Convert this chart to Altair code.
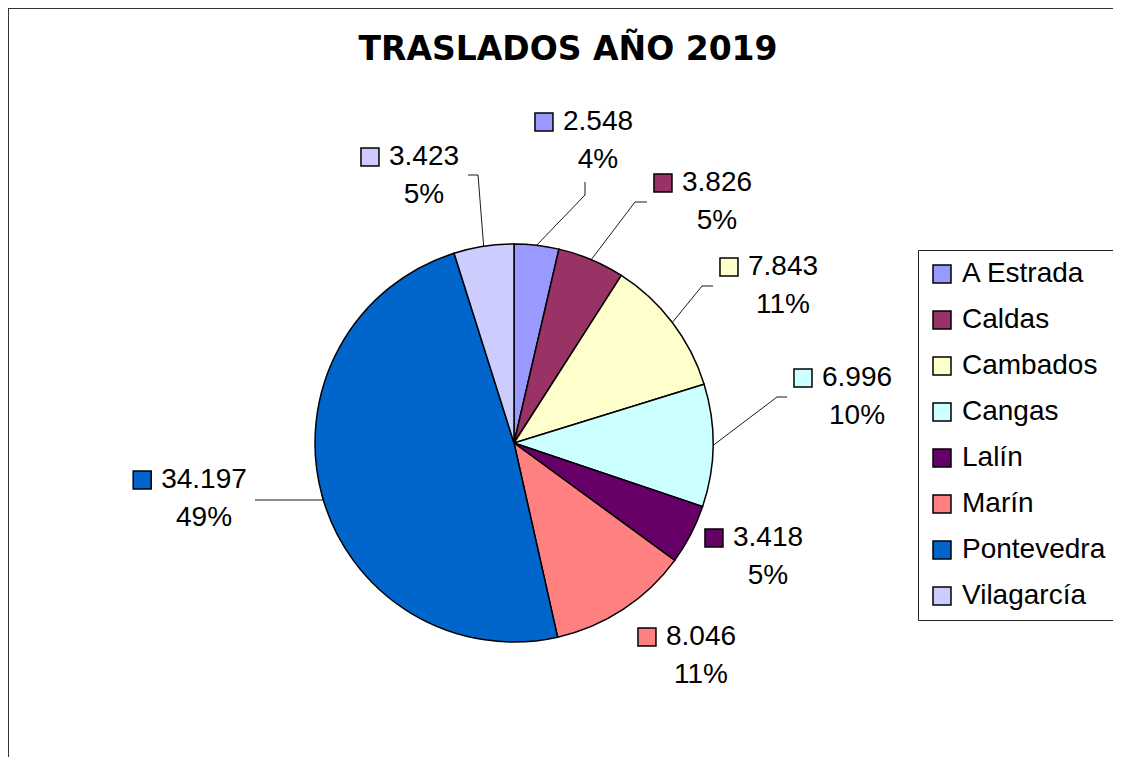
import math
import altair as alt
import pandas as pd

# ---------------- data ----------------
categories = ["A Estrada", "Caldas", "Cambados", "Cangas", "Lalín", "Marín", "Pontevedra", "Vilagarcía"]
values = [2548, 3826, 7843, 6996, 3418, 8046, 34197, 3423]
colors = ["#9999FF", "#993366", "#FFFFCC", "#CCFFFF", "#660066", "#FF8080", "#0066CC", "#CCCCFF"]
title_text = "TRASLADOS AÑO 2019"

# ---------------- layout ----------------
W, H = 1105, 749
CX, CY, R = 506, 435, 199
FS = 28
LINE_GAP = 38
FONT = "Liberation Sans"

# label anchors (centre of the value line) relative to the pie centre, as placed in the original
label_offset = {
    "A Estrada": (84, -321),
    "Caldas": (203, -260),
    "Cambados": (269, -176),
    "Cangas": (343, -65),
    "Lalín": (254, 95),
    "Marín": (187, 194),
    "Pontevedra": (-310, 37),
    "Vilagarcía": (-90, -286),
}
# leader line bend/end points relative to the label anchor
leader_offsets = {
    "A Estrada": [(-13, 73), (-13, 60)],
    "Caldas": [(-82, 19), (-70, 19)],
    "Cambados": [(-81, 19), (-70, 19)],
    "Cangas": [(-80, 19), (-70, 19)],
    "Pontevedra": [(119, 20), (51, 20)],
    "Vilagarcía": [(54, 18), (44, 18)],
}

total = sum(values)
pie_df = pd.DataFrame({"category": categories, "value": values, "order": list(range(len(values)))})


def fmt_thousands(v):
    return f"{v:,}".replace(",", ".")


def text_width(s, fs):
    w = 0.0
    for ch in s:
        if ch.isdigit():
            w += 0.556
        elif ch == "%":
            w += 0.889
        else:
            w += 0.278
    return w * fs


rows = []
line_rows = []
cum = 0
for cat, v in zip(categories, values):
    mid = (cum + v / 2) / total * 2 * math.pi
    cum += v
    dx, dy = label_offset[cat]
    tx, ty = CX + dx, CY + dy
    vt = fmt_thousands(v)
    pt = f"{round(100 * v / total)}%"
    sq_x = tx - text_width(vt, FS) / 2 - 10 - 9
    rows.append({"category": cat, "tx": tx, "ty": ty, "ty2": ty + LINE_GAP,
                 "vtext": vt, "ptext": pt, "sqx": sq_x})
    if cat in leader_offsets:
        ex = CX + R * math.sin(mid)
        ey = CY - R * math.cos(mid)
        pts = [(ex, ey)] + [(tx + ox, ty + oy) for ox, oy in leader_offsets[cat]]
        for i, (px, py) in enumerate(pts):
            line_rows.append({"category": cat, "seq": i, "px": px, "py": py})

lab_df = pd.DataFrame(rows)
line_df = pd.DataFrame(line_rows)

color_scale = alt.Scale(domain=categories, range=colors)
legend = alt.Legend(
    title=None, orient="none", legendX=910, legendY=242, padding=10,
    strokeColor="#222222", fillColor="white",
    symbolType="square", symbolSize=324, symbolStrokeColor="black", symbolStrokeWidth=1.5,
    labelFont=FONT, labelFontSize=FS, labelColor="black", labelOffset=6, labelLimit=300,
    rowPadding=18,
)

arcs = alt.Chart(pie_df).mark_arc(radius=R, stroke="black", strokeWidth=1.5).encode(
    theta=alt.Theta("value:Q", stack=True),
    order=alt.Order("order:Q"),
    color=alt.Color("category:N", scale=color_scale, legend=legend, sort=categories),
    x=alt.value(CX),
    y=alt.value(CY),
)

leaders = alt.Chart(line_df).mark_line(color="black", strokeWidth=0.9).encode(
    x=alt.X("px:Q", scale=None, axis=None),
    y=alt.Y("py:Q", scale=None, axis=None),
    detail="category:N",
    order="seq:Q",
)

val_text = alt.Chart(lab_df).mark_text(font=FONT, fontSize=FS, align="center", baseline="middle", color="black").encode(
    x=alt.X("tx:Q", scale=None, axis=None),
    y=alt.Y("ty:Q", scale=None, axis=None),
    text="vtext:N",
)
pct_text = alt.Chart(lab_df).mark_text(font=FONT, fontSize=FS, align="center", baseline="middle", color="black").encode(
    x=alt.X("tx:Q", scale=None, axis=None),
    y=alt.Y("ty2:Q", scale=None, axis=None),
    text="ptext:N",
)
squares = alt.Chart(lab_df).mark_point(shape="square", size=324, filled=True, stroke="black", strokeWidth=1.5, opacity=1).encode(
    x=alt.X("sqx:Q", scale=None, axis=None),
    y=alt.Y("ty:Q", scale=None, axis=None),
    color=alt.Color("category:N", scale=color_scale, legend=legend, sort=categories),
)

title_mark = alt.Chart(pd.DataFrame({"t": [title_text]})).mark_text(
    font="DejaVu Sans", fontWeight="bold", fontSize=33, align="center", baseline="middle", color="black"
).encode(x=alt.value(560), y=alt.value(42), text="t:N")

top_border = alt.Chart(pd.DataFrame({"a": [0]})).mark_rule(color="#333333", strokeWidth=2).encode(
    x=alt.value(0), x2=alt.value(W), y=alt.value(0)
)
left_border = alt.Chart(pd.DataFrame({"a": [0]})).mark_rule(color="#333333", strokeWidth=2).encode(
    x=alt.value(0), y=alt.value(0), y2=alt.value(H)
)

chart = alt.layer(
    top_border, left_border, arcs, leaders, squares, val_text, pct_text, title_mark
).properties(
    width=W, height=H, padding=0, autosize=alt.AutoSizeParams(type="none"), background="white"
).configure_view(stroke="transparent")

chart.save("out.html", embed_options={"renderer": "svg", "actions": False})
